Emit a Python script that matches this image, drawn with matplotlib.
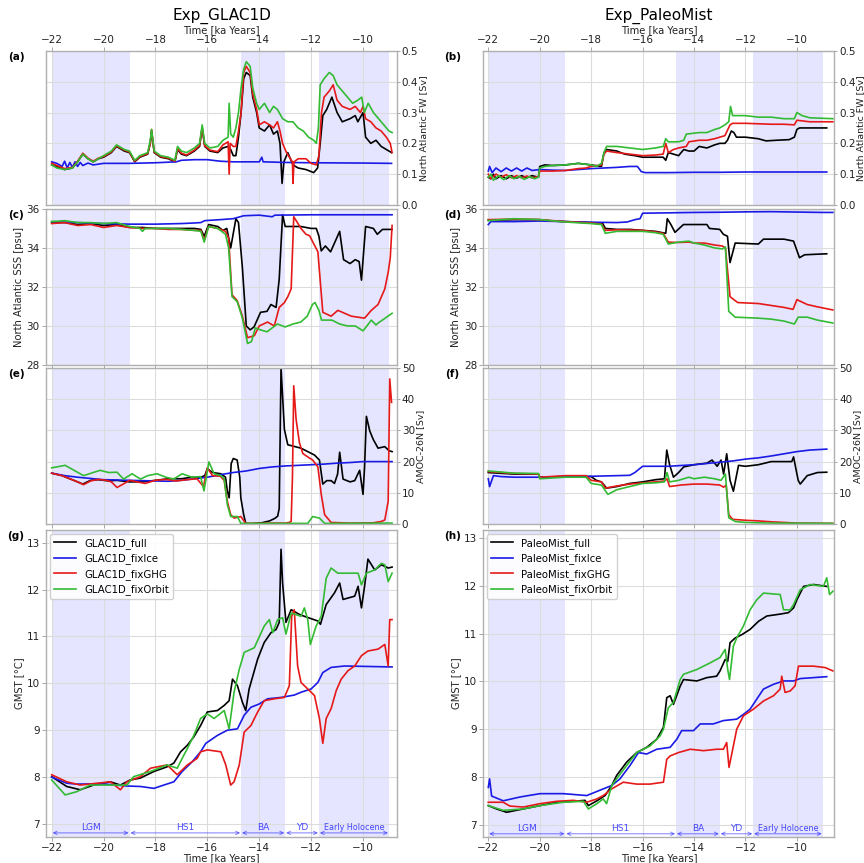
import matplotlib.pyplot as plt

# ── Periods [ka] ───────────────────────────────────────────────────────────
period_names = ["LGM", "HS1", "BA", "YD", "Early Holocene"]
period_edges = [-22.0, -19.0, -14.7, -13.0, -11.7, -9.0]
shaded = [(-22.0, -19.0), (-14.7, -13.0), (-11.7, -9.0)]

run_labels = ["full", "fixIce", "fixGHG", "fixOrbit"]
run_colors = ["black", "#1a1ae6", "#e61919", "#33bb33"]

# ── Exp_GLAC1D : (time [ka], value) ────────────────────────────────────────
g_fw_full = [(-22, 0.13), (-21.8, 0.125), (-21.5, 0.115), (-21.2, 0.12), (-21.0, 0.14), (-20.8, 0.165),
             (-20.6, 0.15), (-20.4, 0.14), (-20.2, 0.15), (-20.0, 0.155), (-19.7, 0.17), (-19.5, 0.19),
             (-19.2, 0.175), (-19.0, 0.17), (-18.8, 0.14), (-18.6, 0.155), (-18.3, 0.165), (-18.2, 0.2),
             (-18.15, 0.24), (-18.05, 0.17), (-17.8, 0.155), (-17.5, 0.15), (-17.25, 0.14), (-17.15, 0.18),
             (-17.0, 0.165), (-16.8, 0.16), (-16.5, 0.175), (-16.3, 0.19), (-16.2, 0.25), (-16.1, 0.19),
             (-15.9, 0.175), (-15.6, 0.17), (-15.4, 0.185), (-15.2, 0.19), (-15.1, 0.18), (-15.0, 0.16),
             (-14.9, 0.16), (-14.8, 0.22), (-14.7, 0.3), (-14.6, 0.41), (-14.5, 0.43), (-14.35, 0.42),
             (-14.25, 0.35), (-14.1, 0.3), (-14.0, 0.25), (-13.8, 0.24), (-13.6, 0.26), (-13.45, 0.23),
             (-13.3, 0.24), (-13.2, 0.2), (-13.15, 0.12), (-13.12, 0.07), (-13.05, 0.14), (-12.9, 0.17),
             (-12.7, 0.13), (-12.5, 0.12), (-12.2, 0.115), (-11.9, 0.105), (-11.75, 0.12), (-11.65, 0.2),
             (-11.55, 0.29), (-11.4, 0.31), (-11.2, 0.35), (-11.0, 0.3), (-10.8, 0.27), (-10.5, 0.28),
             (-10.3, 0.29), (-10.2, 0.27), (-10.0, 0.3), (-9.9, 0.22), (-9.7, 0.2), (-9.5, 0.21),
             (-9.3, 0.19), (-9.1, 0.18), (-8.9, 0.17)]
g_fw_ice = [(-22, 0.14), (-21.8, 0.135), (-21.6, 0.125), (-21.5, 0.142), (-21.4, 0.12), (-21.3, 0.138),
            (-21.2, 0.122), (-21.1, 0.14), (-21.0, 0.125), (-20.9, 0.138), (-20.8, 0.128), (-20.6, 0.136),
            (-20.4, 0.13), (-20.0, 0.135), (-19.0, 0.135), (-18.0, 0.137), (-17.2, 0.14), (-17.0, 0.145),
            (-16.5, 0.147), (-16.0, 0.147), (-15.5, 0.142), (-15.0, 0.14), (-14.0, 0.14), (-13.9, 0.155),
            (-13.85, 0.14), (-13.0, 0.138), (-12.0, 0.137), (-10.0, 0.136), (-8.9, 0.135)]
g_fw_ghg = [(-22, 0.135), (-21.8, 0.128), (-21.5, 0.118), (-21.2, 0.122), (-21.0, 0.142), (-20.8, 0.168),
            (-20.6, 0.152), (-20.4, 0.142), (-20.2, 0.152), (-20.0, 0.157), (-19.7, 0.172), (-19.5, 0.192),
            (-19.2, 0.178), (-19.0, 0.172), (-18.8, 0.142), (-18.6, 0.157), (-18.3, 0.167), (-18.2, 0.2),
            (-18.15, 0.245), (-18.05, 0.172), (-17.8, 0.157), (-17.5, 0.152), (-17.25, 0.142), (-17.15, 0.183),
            (-17.0, 0.168), (-16.8, 0.162), (-16.5, 0.178), (-16.3, 0.193), (-16.2, 0.252), (-16.1, 0.192),
            (-15.9, 0.178), (-15.6, 0.173), (-15.4, 0.195), (-15.2, 0.205), (-15.16, 0.1), (-15.12, 0.2),
            (-15.0, 0.19), (-14.9, 0.19), (-14.8, 0.24), (-14.7, 0.3), (-14.6, 0.43), (-14.5, 0.45),
            (-14.35, 0.43), (-14.25, 0.36), (-14.1, 0.31), (-14.0, 0.26), (-13.8, 0.27), (-13.6, 0.26),
            (-13.45, 0.25), (-13.3, 0.27), (-13.2, 0.24), (-13.1, 0.2), (-12.95, 0.17), (-12.8, 0.15),
            (-12.72, 0.14), (-12.7, 0.07), (-12.66, 0.14), (-12.5, 0.15), (-12.2, 0.15), (-12.0, 0.135),
            (-11.8, 0.13), (-11.7, 0.16), (-11.6, 0.3), (-11.5, 0.35), (-11.3, 0.37), (-11.15, 0.39),
            (-11.0, 0.34), (-10.8, 0.32), (-10.5, 0.31), (-10.3, 0.32), (-10.1, 0.3), (-10.0, 0.32),
            (-9.9, 0.28), (-9.7, 0.27), (-9.5, 0.25), (-9.3, 0.24), (-9.1, 0.22), (-8.95, 0.2), (-8.88, 0.17)]
g_fw_orb = [(-22, 0.13), (-21.8, 0.12), (-21.5, 0.115), (-21.2, 0.12), (-21.0, 0.14), (-20.8, 0.165),
            (-20.6, 0.15), (-20.4, 0.14), (-20.2, 0.15), (-20.0, 0.16), (-19.7, 0.175), (-19.5, 0.195),
            (-19.2, 0.18), (-19.0, 0.175), (-18.8, 0.145), (-18.6, 0.16), (-18.3, 0.17), (-18.2, 0.21),
            (-18.15, 0.245), (-18.05, 0.175), (-17.8, 0.16), (-17.5, 0.155), (-17.25, 0.145), (-17.15, 0.19),
            (-17.0, 0.175), (-16.8, 0.17), (-16.5, 0.185), (-16.3, 0.2), (-16.2, 0.26), (-16.1, 0.2),
            (-15.9, 0.185), (-15.6, 0.19), (-15.4, 0.21), (-15.2, 0.22), (-15.16, 0.33), (-15.1, 0.23),
            (-15.0, 0.22), (-14.9, 0.25), (-14.8, 0.3), (-14.7, 0.38), (-14.6, 0.44), (-14.5, 0.465),
            (-14.35, 0.45), (-14.25, 0.38), (-14.1, 0.33), (-14.0, 0.31), (-13.8, 0.33), (-13.6, 0.3),
            (-13.45, 0.32), (-13.3, 0.31), (-13.1, 0.28), (-12.9, 0.27), (-12.7, 0.27), (-12.5, 0.25),
            (-12.3, 0.24), (-12.1, 0.22), (-11.9, 0.21), (-11.8, 0.2), (-11.72, 0.25), (-11.65, 0.39),
            (-11.5, 0.41), (-11.3, 0.43), (-11.15, 0.42), (-11.0, 0.39), (-10.8, 0.37), (-10.6, 0.35),
            (-10.4, 0.33), (-10.2, 0.34), (-10.05, 0.35), (-9.95, 0.3), (-9.8, 0.33), (-9.6, 0.3),
            (-9.4, 0.28), (-9.2, 0.26), (-9.0, 0.24), (-8.88, 0.235)]

g_sss_full = [(-22, 35.3), (-21.5, 35.3), (-21, 35.2), (-20.5, 35.25), (-20, 35.15), (-19.5, 35.2),
              (-19, 35.05), (-18.5, 35.05), (-18, 35.0), (-17.5, 35.0), (-17, 35.0), (-16.5, 35.0),
              (-16.25, 34.95), (-16.12, 34.6), (-15.95, 35.2), (-15.6, 35.1), (-15.4, 34.9), (-15.25, 35.0),
              (-15.1, 34.0), (-14.9, 35.5), (-14.8, 35.3), (-14.65, 33.0), (-14.5, 30.0), (-14.35, 29.8),
              (-14.2, 29.95), (-13.95, 30.7), (-13.7, 30.75), (-13.55, 31.1), (-13.35, 30.95), (-13.23, 32.4),
              (-13.1, 35.7), (-13.0, 35.1), (-12.4, 35.1), (-12.0, 35.0), (-11.8, 35.0), (-11.7, 34.6),
              (-11.61, 33.85), (-11.45, 34.1), (-11.25, 33.8), (-10.9, 34.85), (-10.75, 33.4), (-10.5, 33.2),
              (-10.3, 33.4), (-10.15, 33.3), (-10.06, 32.35), (-9.9, 35.1), (-9.6, 35.0), (-9.45, 34.7),
              (-9.25, 34.95), (-8.88, 34.95)]
g_sss_ice = [(-22, 35.35), (-21, 35.3), (-20, 35.25), (-19, 35.22), (-18, 35.22), (-17, 35.25), (-16.5, 35.28),
             (-16.25, 35.3), (-16.1, 35.4), (-15.5, 35.45), (-15.0, 35.5), (-14.6, 35.65), (-14.0, 35.68),
             (-13.5, 35.6), (-13.4, 35.68), (-12, 35.7), (-10, 35.7), (-8.88, 35.7)]
g_sss_ghg = [(-22, 35.25), (-21.5, 35.3), (-21, 35.15), (-20.5, 35.2), (-20, 35.05), (-19.5, 35.15),
             (-19, 35.05), (-18.5, 35.0), (-18, 35.0), (-17.5, 34.95), (-17, 34.95), (-16.5, 34.9),
             (-16.25, 34.9), (-16.12, 34.4), (-15.95, 35.1), (-15.6, 35.0), (-15.3, 34.85), (-15.18, 34.5),
             (-15.05, 31.6), (-14.85, 31.3), (-14.65, 30.5), (-14.45, 29.4), (-14.19, 29.5), (-14.0, 30.0),
             (-13.68, 30.2), (-13.42, 30.0), (-13.23, 30.95), (-13.03, 31.2), (-12.9, 31.5), (-12.77, 31.9),
             (-12.67, 35.6), (-12.39, 35.0), (-12.2, 34.7), (-12.06, 34.63), (-11.74, 33.8), (-11.55, 30.7),
             (-11.23, 30.5), (-10.97, 30.8), (-10.45, 30.5), (-9.94, 30.4), (-9.68, 30.8), (-9.42, 31.1),
             (-9.16, 31.9), (-9.03, 32.75), (-8.95, 33.5), (-8.88, 35.15)]
g_sss_orb = [(-22, 35.35), (-21.5, 35.4), (-21, 35.3), (-20.5, 35.3), (-20, 35.25), (-19.5, 35.3),
             (-19, 35.1), (-18.6, 35.0), (-18.5, 34.85), (-18.4, 35.0), (-18, 35.0), (-17.5, 35.0),
             (-17, 34.95), (-16.5, 34.9), (-16.25, 34.85), (-16.12, 34.3), (-15.95, 35.1), (-15.6, 35.0),
             (-15.3, 34.7), (-15.18, 34.0), (-15.05, 31.5), (-14.85, 31.25), (-14.65, 30.4), (-14.45, 29.1),
             (-14.3, 29.2), (-14.15, 29.9), (-13.95, 29.8), (-13.7, 29.7), (-13.55, 29.85), (-13.3, 30.1),
             (-13.0, 29.95), (-12.7, 30.1), (-12.4, 30.2), (-12.15, 30.5), (-11.95, 31.1), (-11.85, 31.2),
             (-11.7, 30.8), (-11.6, 30.3), (-11.2, 30.3), (-10.9, 30.1), (-10.6, 30.0), (-10.3, 30.0),
             (-10.0, 29.75), (-9.85, 30.0), (-9.68, 30.3), (-9.5, 30.05), (-9.42, 30.15), (-9.2, 30.35),
             (-8.88, 30.65)]

g_amoc_full = [(-22, 16.3), (-21.6, 15.5), (-21.3, 14.5), (-21.0, 13.5), (-20.8, 12.8), (-20.5, 14),
               (-20.2, 14.2), (-19.8, 13.8), (-19.5, 14), (-19.0, 13.5), (-18.5, 13.5), (-18.0, 14),
               (-17.5, 14.5), (-17.0, 14.5), (-16.6, 15), (-16.3, 14.8), (-16.1, 15.5), (-16.0, 17.7),
               (-15.8, 16.5), (-15.48, 16.1), (-15.3, 15), (-15.23, 10.6), (-15.16, 8.4), (-15.08, 19.4),
               (-15.0, 21), (-14.85, 20.5), (-14.75, 15), (-14.71, 8.4), (-14.6, 3), (-14.52, 0.2),
               (-14.3, 0.1), (-13.9, 0.4), (-13.6, 1.0), (-13.4, 1.8), (-13.29, 2.5), (-13.23, 5),
               (-13.16, 50), (-13.03, 30.3), (-12.9, 25.4), (-12.39, 24.3), (-12.13, 23.2), (-11.87, 22.1),
               (-11.68, 20.5), (-11.55, 12.8), (-11.4, 13.9), (-11.23, 13.9), (-11.1, 13), (-10.98, 16),
               (-10.9, 23), (-10.77, 14.4), (-10.5, 13.5), (-10.32, 13.9), (-10.13, 17.2), (-10.0, 9.5),
               (-9.94, 18.3), (-9.87, 34.5), (-9.74, 29.8), (-9.6, 27), (-9.42, 24.3), (-9.16, 24.8),
               (-9.0, 23.5), (-8.88, 23.2)]
g_amoc_ice = [(-22, 16.3), (-21.5, 15.5), (-21, 15), (-20.5, 14.6), (-20, 14.2), (-19, 14), (-18, 13.8),
              (-17.5, 13.7), (-17, 14), (-16.5, 14.5), (-16, 15), (-15.5, 15.8), (-15, 16.5), (-14.5, 17),
              (-14, 17.8), (-13.5, 18.3), (-13, 18.6), (-12.5, 18.8), (-12, 19), (-11.5, 19.2), (-11, 19.5),
              (-10.5, 19.7), (-10, 20), (-9.5, 20), (-8.88, 20)]
g_amoc_ghg = [(-22, 16.3), (-21.6, 15.5), (-21.3, 14.5), (-21.0, 13.5), (-20.77, 12.6), (-20.5, 13.8),
              (-20.2, 14.3), (-19.9, 14), (-19.7, 13.5), (-19.48, 11.7), (-19.2, 13), (-19.0, 14),
              (-18.7, 13.5), (-18.4, 13), (-18.0, 14), (-17.6, 14.3), (-17.2, 13.8), (-16.8, 14.2),
              (-16.4, 14.5), (-16.15, 12), (-16.0, 18), (-15.8, 15.5), (-15.5, 15.3), (-15.35, 14),
              (-15.23, 7.3), (-15.1, 3), (-14.97, 1.9), (-14.71, 2.4), (-14.52, 0.2), (-14.0, 0.2),
              (-13.5, 0.3), (-13.0, 0.3), (-12.85, 0.5), (-12.77, 0.8), (-12.72, 15), (-12.67, 44.3),
              (-12.58, 33.6), (-12.45, 26), (-12.32, 22.6), (-12.13, 21.5), (-11.94, 20.5), (-11.74, 18.3),
              (-11.61, 9.5), (-11.48, 3), (-11.23, 0.5), (-10.5, 0.3), (-9.6, 0.4), (-9.3, 0.8),
              (-9.16, 1.3), (-9.03, 7.3), (-8.97, 46.5), (-8.9, 39)]
g_amoc_orb = [(-22, 18), (-21.48, 18.8), (-21.2, 17.5), (-20.77, 15.5), (-20.4, 16.5), (-20.13, 17.2),
              (-19.8, 16.5), (-19.48, 16.6), (-19.23, 14.4), (-18.9, 16.1), (-18.58, 14.4), (-18.3, 15.5),
              (-17.94, 16.1), (-17.6, 15.0), (-17.3, 14.4), (-16.97, 16.1), (-16.6, 15.0), (-16.26, 15.2),
              (-16.13, 10.6), (-15.94, 19.9), (-15.74, 16.1), (-15.48, 15.5), (-15.35, 14.5), (-15.23, 6.2),
              (-15.1, 2.4), (-14.84, 2.4), (-14.71, 0.2), (-12.13, 0.2), (-11.94, 2.4), (-11.68, 1.9),
              (-11.48, 0.2), (-8.88, 0.3)]

g_gmst_full = [(-22, 8.01), (-21.42, 7.8), (-20.9, 7.73), (-20.39, 7.83), (-19.74, 7.9), (-19.35, 7.83),
               (-18.97, 7.94), (-18.58, 7.98), (-18.06, 8.12), (-17.55, 8.22), (-17.29, 8.3), (-17.03, 8.54),
               (-16.77, 8.68), (-16.52, 8.86), (-16.26, 9.1), (-16.0, 9.39), (-15.61, 9.42), (-15.35, 9.53),
               (-15.16, 9.63), (-15.03, 10.09), (-14.84, 9.95), (-14.65, 9.6), (-14.52, 9.42), (-14.39, 9.88),
               (-14.06, 10.52), (-13.81, 10.87), (-13.55, 11.08), (-13.35, 11.15), (-13.23, 11.3),
               (-13.16, 12.86), (-13.1, 12.14), (-12.97, 11.3), (-12.77, 11.57), (-12.45, 11.47),
               (-12.26, 11.43), (-11.74, 11.33), (-11.64, 11.26), (-11.42, 11.68), (-11.1, 11.93),
               (-10.9, 12.14), (-10.77, 11.79), (-10.32, 11.86), (-10.19, 12.07), (-10.06, 11.61),
               (-9.94, 12.07), (-9.81, 12.65), (-9.55, 12.42), (-9.29, 12.53), (-9.03, 12.46), (-8.88, 12.48)]
g_gmst_ice = [(-22, 8.0), (-21.42, 7.87), (-21.03, 7.85), (-20.13, 7.86), (-19.1, 7.81), (-18.58, 7.8),
              (-18.06, 7.76), (-17.68, 7.83), (-17.29, 7.9), (-16.97, 8.12), (-16.58, 8.33), (-16.26, 8.54),
              (-16.06, 8.72), (-15.61, 8.89), (-15.23, 9.0), (-14.84, 9.03), (-14.58, 9.32), (-14.32, 9.49),
              (-14.0, 9.56), (-13.68, 9.67), (-13.16, 9.7), (-12.65, 9.75), (-12.39, 9.81), (-12.0, 9.88),
              (-11.74, 10.02), (-11.55, 10.23), (-11.23, 10.34), (-10.71, 10.37), (-8.88, 10.35)]
g_gmst_ghg = [(-22, 8.05), (-21.42, 7.9), (-20.9, 7.83), (-20.39, 7.86), (-19.74, 7.9), (-19.35, 7.73),
              (-19.1, 7.9), (-18.58, 8.01), (-18.19, 8.19), (-17.55, 8.26), (-17.16, 8.05), (-16.77, 8.26),
              (-16.39, 8.4), (-16.26, 8.54), (-16.0, 8.58), (-15.48, 8.54), (-15.29, 8.26), (-15.1, 7.83),
              (-14.97, 7.9), (-14.77, 8.26), (-14.58, 8.96), (-14.32, 9.1), (-14.06, 9.39), (-13.81, 9.63),
              (-13.42, 9.67), (-13.03, 9.7), (-12.84, 9.95), (-12.75, 11.43), (-12.65, 11.57), (-12.52, 10.37),
              (-12.39, 10.02), (-12.13, 9.88), (-11.87, 9.74), (-11.68, 9.25), (-11.55, 8.72), (-11.42, 9.25),
              (-11.23, 9.46), (-11.03, 9.85), (-10.84, 10.09), (-10.58, 10.27), (-10.32, 10.37),
              (-10.06, 10.59), (-9.81, 10.69), (-9.42, 10.73), (-9.16, 10.83), (-9.03, 10.37),
              (-8.97, 11.36), (-8.88, 11.36)]
g_gmst_orb = [(-22, 7.94), (-21.48, 7.62), (-21.03, 7.69), (-20.52, 7.83), (-19.74, 7.83), (-19.1, 7.83),
              (-18.84, 8.01), (-18.19, 8.12), (-17.55, 8.26), (-17.16, 8.19), (-16.97, 8.4), (-16.77, 8.61),
              (-16.52, 8.89), (-16.26, 9.25), (-16.0, 9.35), (-15.74, 9.25), (-15.35, 9.42), (-15.16, 9.03),
              (-14.97, 9.81), (-14.77, 10.3), (-14.58, 10.66), (-14.19, 10.76), (-13.81, 11.22),
              (-13.61, 11.36), (-13.48, 11.08), (-13.29, 11.36), (-13.1, 11.4), (-12.97, 11.05),
              (-12.77, 11.5), (-12.39, 11.43), (-12.26, 11.61), (-12.13, 11.36), (-12.03, 10.83),
              (-11.81, 11.22), (-11.61, 11.43), (-11.42, 12.24), (-11.23, 12.46), (-10.97, 12.35),
              (-10.19, 12.35), (-10.06, 12.1), (-9.87, 12.35), (-9.55, 12.42), (-9.29, 12.56),
              (-9.16, 12.53), (-9.03, 12.17), (-8.88, 12.35)]

# ── Exp_PaleoMist ──────────────────────────────────────────────────────────
p_fw_full = [(-22, 0.09), (-21.9, 0.085), (-21.8, 0.1), (-21.7, 0.085), (-21.5, 0.095), (-21.3, 0.085),
             (-21.1, 0.095), (-20.9, 0.087), (-20.7, 0.095), (-20.5, 0.088), (-20.3, 0.095), (-20.05, 0.09),
             (-20.0, 0.125), (-19.8, 0.13), (-19.5, 0.128), (-19.0, 0.13), (-18.5, 0.135), (-18.0, 0.13),
             (-17.6, 0.125), (-17.5, 0.17), (-17.4, 0.18), (-17.0, 0.175), (-16.7, 0.165), (-16.3, 0.16),
             (-16.0, 0.155), (-15.5, 0.155), (-15.2, 0.155), (-15.1, 0.145), (-15.0, 0.17), (-14.8, 0.165),
             (-14.6, 0.16), (-14.4, 0.18), (-14.2, 0.175), (-14.0, 0.175), (-13.8, 0.19), (-13.5, 0.185),
             (-13.2, 0.195), (-13.0, 0.2), (-12.8, 0.2), (-12.7, 0.21), (-12.55, 0.24), (-12.45, 0.235),
             (-12.35, 0.22), (-12.0, 0.22), (-11.5, 0.215), (-11.2, 0.208), (-10.8, 0.21), (-10.3, 0.212),
             (-10.1, 0.22), (-10.0, 0.245), (-9.9, 0.25), (-9.5, 0.25), (-8.84, 0.25)]
p_fw_ice = [(-22, 0.11), (-21.95, 0.125), (-21.85, 0.105), (-21.7, 0.12), (-21.5, 0.108), (-21.3, 0.12),
            (-21.1, 0.11), (-20.9, 0.12), (-20.7, 0.11), (-20.5, 0.12), (-20.3, 0.112), (-20.0, 0.115),
            (-19.5, 0.113), (-19.0, 0.112), (-18.5, 0.115), (-18.0, 0.118), (-17.5, 0.12), (-17.0, 0.122),
            (-16.5, 0.125), (-16.2, 0.125), (-16.05, 0.108), (-15.9, 0.105), (-15.0, 0.105), (-14.0, 0.106),
            (-13.0, 0.106), (-12.0, 0.107), (-11.0, 0.107), (-10.0, 0.107), (-8.84, 0.107)]
p_fw_ghg = [(-22, 0.1), (-21.9, 0.085), (-21.7, 0.1), (-21.5, 0.09), (-21.3, 0.098), (-21.1, 0.088),
            (-20.9, 0.095), (-20.7, 0.088), (-20.5, 0.094), (-20.3, 0.088), (-20.05, 0.092), (-20.0, 0.11),
            (-19.5, 0.11), (-19.0, 0.112), (-18.5, 0.118), (-18.2, 0.12), (-18.0, 0.125), (-17.6, 0.13),
            (-17.5, 0.165), (-17.4, 0.175), (-17.0, 0.17), (-16.5, 0.165), (-16.0, 0.16), (-15.5, 0.162),
            (-15.2, 0.165), (-15.1, 0.2), (-15.0, 0.17), (-14.8, 0.18), (-14.6, 0.185), (-14.3, 0.19),
            (-14.2, 0.205), (-13.8, 0.21), (-13.5, 0.21), (-13.2, 0.215), (-13.0, 0.22), (-12.8, 0.225),
            (-12.6, 0.26), (-12.5, 0.265), (-12.0, 0.265), (-11.0, 0.262), (-10.5, 0.262), (-10.1, 0.26),
            (-10.0, 0.275), (-9.5, 0.27), (-8.6, 0.27)]
p_fw_orb = [(-22, 0.09), (-21.9, 0.1), (-21.8, 0.08), (-21.6, 0.095), (-21.4, 0.082), (-21.2, 0.095),
            (-21.0, 0.085), (-20.8, 0.093), (-20.6, 0.083), (-20.4, 0.092), (-20.2, 0.085), (-20.05, 0.09),
            (-20.0, 0.12), (-19.8, 0.125), (-19.5, 0.128), (-19.0, 0.13), (-18.5, 0.135), (-18.0, 0.13),
            (-17.8, 0.125), (-17.6, 0.135), (-17.5, 0.17), (-17.4, 0.19), (-17.0, 0.19), (-16.5, 0.185),
            (-16.0, 0.18), (-15.5, 0.185), (-15.2, 0.19), (-15.1, 0.215), (-15.0, 0.205), (-14.6, 0.205),
            (-14.4, 0.21), (-14.3, 0.23), (-13.8, 0.235), (-13.5, 0.235), (-13.2, 0.245), (-13.0, 0.25),
            (-12.8, 0.26), (-12.65, 0.27), (-12.58, 0.32), (-12.5, 0.29), (-12.0, 0.29), (-11.5, 0.285),
            (-11.0, 0.285), (-10.5, 0.28), (-10.1, 0.28), (-10.0, 0.3), (-9.8, 0.29), (-9.5, 0.283),
            (-8.6, 0.28)]

p_sss_full = [(-22, 35.42), (-21, 35.45), (-20, 35.45), (-19.5, 35.38), (-19, 35.35), (-18.5, 35.32),
              (-18, 35.3), (-17.55, 35.25), (-17.45, 35.0), (-17.0, 34.95), (-16.5, 34.95), (-16.0, 34.9),
              (-15.5, 34.85), (-15.1, 34.75), (-15.04, 35.5), (-14.9, 35.2), (-14.74, 34.8), (-14.41, 35.2),
              (-13.5, 35.2), (-13.4, 35.0), (-13.0, 34.95), (-12.86, 34.7), (-12.7, 34.6), (-12.6, 33.25),
              (-12.4, 34.25), (-11.5, 34.2), (-11.3, 34.45), (-10.5, 34.45), (-10.13, 34.35), (-9.9, 33.5),
              (-9.7, 33.65), (-8.84, 33.7)]
p_sss_ice = [(-22, 35.2), (-21.9, 35.35), (-21, 35.35), (-20, 35.38), (-19, 35.35), (-18, 35.32), (-17, 35.3),
             (-16.6, 35.33), (-16.3, 35.45), (-16.1, 35.5), (-16.0, 35.78), (-15.0, 35.8), (-14.0, 35.82),
             (-13.0, 35.83), (-12.0, 35.85), (-11.0, 35.86), (-10.0, 35.84), (-9.0, 35.82), (-8.6, 35.82)]
p_sss_ghg = [(-22, 35.45), (-21, 35.48), (-20, 35.45), (-19, 35.35), (-18, 35.28), (-17.6, 35.22),
             (-17.45, 34.9), (-17, 34.93), (-16.5, 34.92), (-16.0, 34.9), (-15.5, 34.82), (-15.2, 34.75),
             (-15.0, 34.3), (-14.6, 34.28), (-14.2, 34.3), (-14.0, 34.25), (-13.6, 34.25), (-13.2, 34.15),
             (-12.9, 34.1), (-12.78, 34.0), (-12.6, 31.5), (-12.3, 31.2), (-11.5, 31.15), (-11.0, 31.05),
             (-10.5, 30.95), (-10.15, 30.85), (-10.0, 31.35), (-9.6, 31.1), (-9.2, 30.98), (-8.6, 30.82)]
p_sss_orb = [(-22, 35.4), (-21, 35.5), (-20, 35.45), (-19, 35.33), (-18, 35.25), (-17.6, 35.2),
             (-17.45, 34.75), (-17, 34.85), (-16.5, 34.85), (-16.0, 34.85), (-15.5, 34.78), (-15.2, 34.7),
             (-15.0, 34.2), (-14.6, 34.3), (-14.2, 34.35), (-14.0, 34.25), (-13.6, 34.15), (-13.2, 34.0),
             (-12.9, 33.95), (-12.78, 34.05), (-12.65, 30.75), (-12.4, 30.45), (-11.5, 30.4), (-11.0, 30.35),
             (-10.5, 30.25), (-10.1, 30.1), (-9.95, 30.45), (-9.6, 30.45), (-9.2, 30.3), (-8.6, 30.15)]

p_amoc_full = [(-22, 16.5), (-21, 16), (-20.05, 16), (-20.0, 15), (-19, 15.2), (-18, 15.2), (-17.8, 14),
               (-17.6, 13.5), (-17.4, 11.5), (-17.0, 12), (-16.5, 13), (-16.0, 13.5), (-15.5, 14.2),
               (-15.15, 14.5), (-15.06, 23.7), (-14.95, 19), (-14.8, 15), (-14.6, 16.5), (-14.4, 18.3),
               (-14.0, 19), (-13.5, 19.5), (-13.3, 20.5), (-13.1, 18.5), (-12.95, 20.5), (-12.85, 16),
               (-12.73, 22.5), (-12.6, 14), (-12.47, 10.5), (-12.27, 18.8), (-12.0, 18.5), (-11.5, 19),
               (-11.0, 20), (-10.2, 20), (-10.13, 21.5), (-9.95, 14), (-9.87, 12.8), (-9.6, 15.5),
               (-9.2, 16.5), (-8.84, 16.6)]
p_amoc_ice = [(-22, 14.5), (-21.95, 12), (-21.8, 15.5), (-21.5, 15.2), (-21, 15), (-20, 15), (-19, 15.2),
              (-18, 15.3), (-17, 15.5), (-16.5, 15.6), (-16.3, 16.5), (-16.0, 18.5), (-15, 18.5), (-14, 19),
              (-13, 19.8), (-12.5, 20.2), (-12, 20.8), (-11.5, 21.2), (-11, 21.8), (-10.5, 22.5), (-10, 23.2),
              (-9.5, 23.7), (-8.84, 24)]
p_amoc_ghg = [(-22, 16.8), (-21, 16.2), (-20.05, 16), (-20.0, 15), (-19, 15.5), (-18.2, 15.5), (-18.0, 14),
              (-17.6, 13.5), (-17.45, 11.5), (-17.0, 12.2), (-16.5, 12.8), (-16.0, 13.2), (-15.5, 13.5),
              (-15.15, 13.8), (-15.05, 14.5), (-14.95, 12), (-14.5, 12.5), (-14.0, 12.8), (-13.5, 12.8),
              (-13.0, 12.5), (-12.85, 11.8), (-12.75, 12.5), (-12.65, 3), (-12.5, 1.5), (-12.0, 1.2),
              (-11.5, 1.0), (-11, 0.7), (-10.5, 0.5), (-10, 0.3), (-8.6, 0.2)]
p_amoc_orb = [(-22, 17), (-21, 16.3), (-20.05, 16.2), (-20.0, 14.5), (-19, 15), (-18.2, 15), (-18.0, 13),
              (-17.6, 12.5), (-17.35, 9.5), (-17.0, 11), (-16.5, 12), (-16.0, 13), (-15.5, 13.2),
              (-15.15, 13.5), (-15.05, 16.5), (-14.95, 13.5), (-14.6, 14), (-14.2, 15), (-14.0, 14.5),
              (-13.6, 15), (-13.2, 14.5), (-12.95, 14), (-12.78, 16), (-12.65, 2), (-12.4, 0.8),
              (-12.0, 0.5), (-11.0, 0.3), (-8.6, 0.2)]

p_gmst_full = [(-22, 7.4), (-21.68, 7.33), (-21.29, 7.26), (-20.64, 7.33), (-19.99, 7.4), (-19.34, 7.47),
               (-18.69, 7.49), (-18.24, 7.51), (-18.11, 7.4), (-17.78, 7.5), (-17.46, 7.61), (-17.2, 7.82),
               (-17.01, 8.03), (-16.62, 8.31), (-16.23, 8.51), (-15.84, 8.62), (-15.45, 8.79), (-15.19, 9.04),
               (-15.06, 9.66), (-14.93, 9.7), (-14.8, 9.52), (-14.54, 9.9), (-14.41, 10.04), (-13.89, 10.01),
               (-13.5, 10.08), (-13.12, 10.11), (-12.99, 10.22), (-12.79, 10.46), (-12.69, 10.42),
               (-12.6, 10.81), (-12.4, 10.91), (-12.14, 10.98), (-11.82, 11.09), (-11.49, 11.26),
               (-11.17, 11.37), (-10.65, 11.41), (-10.33, 11.44), (-10.13, 11.54), (-10.0, 11.71),
               (-9.74, 11.99), (-9.35, 12.03), (-8.84, 11.99)]
p_gmst_ice = [(-22, 7.78), (-21.95, 7.96), (-21.87, 7.6), (-21.42, 7.5), (-20.77, 7.58), (-19.99, 7.65),
              (-19.08, 7.65), (-18.17, 7.61), (-17.53, 7.75), (-17.2, 7.82), (-16.88, 7.96), (-16.49, 8.24),
              (-16.16, 8.51), (-15.84, 8.48), (-15.45, 8.58), (-14.93, 8.62), (-14.67, 8.79), (-14.48, 8.97),
              (-14.02, 8.97), (-13.76, 9.11), (-13.25, 9.11), (-12.86, 9.18), (-12.34, 9.21), (-12.08, 9.31),
              (-11.82, 9.42), (-11.56, 9.63), (-11.3, 9.84), (-10.91, 9.94), (-10.52, 10.01), (-10.13, 10.01),
              (-9.87, 10.06), (-9.35, 10.08), (-8.84, 10.1)]
p_gmst_ghg = [(-22, 7.47), (-21.42, 7.47), (-21.16, 7.39), (-20.64, 7.37), (-19.99, 7.44), (-19.34, 7.49),
              (-18.69, 7.51), (-18.17, 7.47), (-17.78, 7.54), (-17.53, 7.61), (-17.2, 7.75), (-16.75, 7.89),
              (-16.23, 7.85), (-15.71, 7.85), (-15.19, 7.89), (-15.06, 8.37), (-14.93, 8.44), (-14.61, 8.51),
              (-14.15, 8.58), (-13.63, 8.55), (-13.12, 8.58), (-12.86, 8.58), (-12.73, 8.72), (-12.64, 8.2),
              (-12.47, 8.65), (-12.34, 9.0), (-12.08, 9.28), (-11.69, 9.42), (-11.3, 9.59), (-10.91, 9.7),
              (-10.65, 9.84), (-10.59, 10.11), (-10.46, 9.77), (-10.26, 9.8), (-10.07, 9.91), (-9.94, 10.32),
              (-9.35, 10.32), (-8.9, 10.29), (-8.6, 10.22)]
p_gmst_orb = [(-22, 7.4), (-21.42, 7.3), (-20.64, 7.33), (-19.99, 7.4), (-19.08, 7.47), (-18.3, 7.49),
              (-18.11, 7.33), (-17.78, 7.44), (-17.53, 7.54), (-17.4, 7.44), (-17.2, 7.82), (-17.01, 7.96),
              (-16.62, 8.24), (-16.23, 8.51), (-15.71, 8.65), (-15.32, 8.86), (-15.19, 9.0), (-15.0, 9.45),
              (-14.8, 9.56), (-14.54, 10.04), (-14.41, 10.15), (-13.89, 10.25), (-13.37, 10.39),
              (-12.99, 10.5), (-12.79, 10.67), (-12.69, 10.25), (-12.62, 10.04), (-12.47, 10.74),
              (-12.34, 10.91), (-12.08, 11.16), (-11.82, 11.5), (-11.56, 11.71), (-11.3, 11.85),
              (-10.65, 11.82), (-10.52, 11.5), (-10.26, 11.5), (-10.13, 11.61), (-9.87, 11.92),
              (-9.48, 12.03), (-8.97, 11.99), (-8.84, 12.17), (-8.73, 11.82), (-8.6, 11.89)]


def split(pairs):
    return [p[0] for p in pairs], [p[1] for p in pairs]


# ── Figure layout (fractions of the 864x863 px canvas) ─────────────────────
fig = plt.figure(figsize=(8.64, 8.63), dpi=100)
COL_X = [0.0532, 0.5595]
COL_W = 0.4063
ROW_BOX = [(0.7625, 0.1785), (0.5771, 0.1808), (0.3928, 0.1808), (0.0300, 0.3558)]

columns = [
    dict(title="Exp_GLAC1D", prefix="GLAC1D", xlim=(-22.22, -8.69), gmst_lim=(6.72, 13.27),
         letters="aceg",
         series=[[g_fw_full, g_fw_ice, g_fw_ghg, g_fw_orb],
                 [g_sss_full, g_sss_ice, g_sss_ghg, g_sss_orb],
                 [g_amoc_full, g_amoc_ice, g_amoc_ghg, g_amoc_orb],
                 [g_gmst_full, g_gmst_ice, g_gmst_ghg, g_gmst_orb]]),
    dict(title="Exp_PaleoMist", prefix="PaleoMist", xlim=(-22.19, -8.54), gmst_lim=(6.74, 13.17),
         letters="bdfh",
         series=[[p_fw_full, p_fw_ice, p_fw_ghg, p_fw_orb],
                 [p_sss_full, p_sss_ice, p_sss_ghg, p_sss_orb],
                 [p_amoc_full, p_amoc_ice, p_amoc_ghg, p_amoc_orb],
                 [p_gmst_full, p_gmst_ice, p_gmst_ghg, p_gmst_orb]]),
]

row_specs = [
    dict(ylim=(0, 0.5), yticks=[0.0, 0.1, 0.2, 0.3, 0.4, 0.5], side="right", ylabel="North Atlantic FW [Sv]"),
    dict(ylim=(28, 36), yticks=[28, 30, 32, 34, 36], side="left", ylabel="North Atlantic SSS [psu]"),
    dict(ylim=(0, 50), yticks=[0, 10, 20, 30, 40, 50], side="right", ylabel="AMOC-26N [Sv]"),
    dict(ylim=None, yticks=[7, 8, 9, 10, 11, 12, 13], side="left", ylabel="GMST [°C]"),
]

SPINE = "#b0b0b0"
xticks = [-22, -20, -18, -16, -14, -12, -10]

for ci, col in enumerate(columns):
    x0 = COL_X[ci]
    fig.text(x0 + COL_W / 2, 0.981, col["title"], ha="center", va="center", fontsize=11)

    for ri, spec in enumerate(row_specs):
        yb, h = ROW_BOX[ri]
        ax = fig.add_axes([x0, yb, COL_W, h])

        for a, b in shaded:
            ax.axvspan(a, b, color="blue", alpha=0.1, lw=0, zorder=0)

        for pairs, lab, c in zip(col["series"][ri], run_labels, run_colors):
            t, v = split(pairs)
            ax.plot(t, v, color=c, lw=1.2, label=f"{col['prefix']}_{lab}")

        ax.set_xlim(*col["xlim"])
        ax.set_xticks(xticks)
        ax.set_ylim(*(spec["ylim"] if spec["ylim"] else col["gmst_lim"]))
        ax.set_yticks(spec["yticks"])
        ax.grid(True, color="#dcdcdc", lw=0.8)

        for s in ax.spines.values():
            s.set_color(SPINE)
            s.set_linewidth(1.0)
        ax.tick_params(labelsize=7.5, length=3, width=0.6, color="#999999",
                       labelcolor="#222222", pad=1.5)

        if spec["side"] == "right":
            ax.yaxis.tick_right()
            ax.yaxis.set_label_position("right")
            ax.tick_params(axis="y", length=2.5, pad=1)
            ax.set_ylabel(spec["ylabel"], fontsize=6.8, labelpad=0.5, color="#222222")
        else:
            ax.set_ylabel(spec["ylabel"], fontsize=7.2, labelpad=2, color="#222222")

        if ri == 0:
            ax.xaxis.tick_top()
            ax.xaxis.set_label_position("top")
            ax.set_xlabel("Time [ka Years]", fontsize=7.2, labelpad=1, color="#222222")
        elif ri == 3:
            ax.set_xlabel("Time [ka Years]", fontsize=7.2, labelpad=-0.5, color="#222222")
        else:
            ax.tick_params(axis="x", labelbottom=False)

        ax.annotate(f"({col['letters'][ri]})", xy=(0, 1), xycoords="axes fraction",
                    xytext=(-21.5 if ci == 0 else -22.5, -4.5), textcoords="offset points",
                    ha="center", va="center", fontsize=7.5, fontweight="bold")

        if ri == 3:
            ax.legend(loc="upper left", fontsize=7.3, borderaxespad=0.35, handlelength=2.2,
                      labelspacing=0.45, framealpha=0.9, edgecolor="#cccccc")
            y_arrow, y_text = 6.81, 6.92
            for k, name in enumerate(period_names):
                a, b = period_edges[k], period_edges[k + 1]
                ax.annotate("", xy=(b - 0.03, y_arrow), xytext=(a + 0.03, y_arrow),
                            arrowprops=dict(arrowstyle="<->", color="blue", alpha=0.45, lw=0.8,
                                            shrinkA=0, shrinkB=0, mutation_scale=6))
                ax.text((a + b) / 2, y_text, name, color="blue", alpha=0.7,
                        fontsize=5.8 if name == "Early Holocene" else 6.5, ha="center", va="center")

plt.savefig("out.png", dpi=100)
